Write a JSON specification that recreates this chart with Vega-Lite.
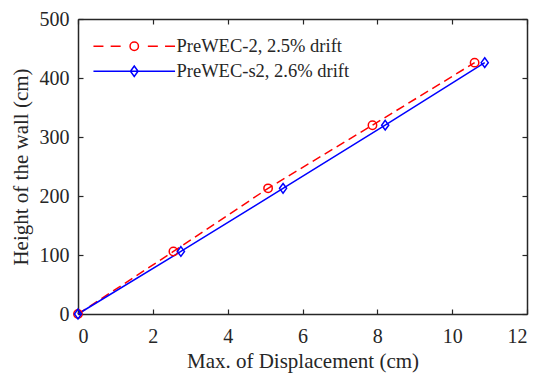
{
  "$schema": "https://vega.github.io/schema/vega-lite/v6.json",
  "autosize": {"type": "none"},
  "padding": {"left": 78, "top": 19, "right": 10, "bottom": 61},
  "width": 449,
  "height": 295,
  "background": "white",
  "config": {
    "view": {"stroke": null},
    "axis": {
      "labelFont": "Liberation Serif", "labelFontSize": 20, "labelColor": "#262626",
      "titleFont": "Liberation Serif", "titleFontSize": 21, "titleFontWeight": "normal", "titleColor": "#262626",
      "domainColor": "#262626", "domainWidth": 1.5, "tickColor": "#262626", "tickWidth": 1.2, "grid": false, "tickSize": -5
    },
    "legend": {"labelFont": "Liberation Serif", "labelFontSize": 18.5, "labelColor": "#262626", "labelLimit": 400}
  },
  "datasets": {
    "main": [
      {"series": "PreWEC-2, 2.5% drift", "x": 0, "y": 0},
      {"series": "PreWEC-2, 2.5% drift", "x": 2.55, "y": 106},
      {"series": "PreWEC-2, 2.5% drift", "x": 5.08, "y": 213},
      {"series": "PreWEC-2, 2.5% drift", "x": 7.87, "y": 320},
      {"series": "PreWEC-2, 2.5% drift", "x": 10.6, "y": 426},
      {"series": "PreWEC-s2, 2.6% drift", "x": 0, "y": 0},
      {"series": "PreWEC-s2, 2.6% drift", "x": 2.75, "y": 106},
      {"series": "PreWEC-s2, 2.6% drift", "x": 5.48, "y": 213},
      {"series": "PreWEC-s2, 2.6% drift", "x": 8.21, "y": 320},
      {"series": "PreWEC-s2, 2.6% drift", "x": 10.87, "y": 426}
    ],
    "legend": [
      {"label": "PreWEC-2, 2.5% drift"},
      {"label": "PreWEC-s2, 2.6% drift"}
    ]
  },
  "layer": [
    {
      "data": {"name": "main"},
      "transform": [{"filter": "datum.series === 'PreWEC-2, 2.5% drift'"}],
      "mark": {"type": "line", "strokeWidth": 1.5, "color": "#ff0000", "strokeDash": [9, 5]},
      "encoding": {
        "x": {"field": "x", "type": "quantitative", "scale": {"domain": [0, 12], "nice": false},
              "axis": {"orient": "bottom", "values": [0, 2, 4, 6, 8, 10, 12], "title": "Max. of Displacement (cm)", "labelPadding": 17, "titlePadding": 4}},
        "y": {"field": "y", "type": "quantitative", "scale": {"domain": [0, 500], "nice": false},
              "axis": {"orient": "left", "values": [0, 100, 200, 300, 400, 500], "title": "Height of the wall (cm)", "labelPadding": 14, "titlePadding": 8}}
      }
    },
    {
      "data": {"name": "main"},
      "transform": [{"filter": "datum.series === 'PreWEC-s2, 2.6% drift'"}],
      "mark": {"type": "line", "strokeWidth": 1.5, "color": "#0000ff"},
      "encoding": {
        "x": {"field": "x", "type": "quantitative", "axis": null},
        "y": {"field": "y", "type": "quantitative", "axis": null}
      }
    },
    {
      "data": {"name": "main"},
      "transform": [{"filter": "datum.series === 'PreWEC-2, 2.5% drift'"}],
      "mark": {"type": "point", "filled": false, "strokeWidth": 1.5, "size": 64, "opacity": 1, "color": "#ff0000",
               "shape": "M1.05,0A1.05,1.05,0,1,1,-1.05,0A1.05,1.05,0,1,1,1.05,0Z"},
      "encoding": {
        "x": {"field": "x", "type": "quantitative",
              "axis": {"orient": "top", "values": [0, 2, 4, 6, 8, 10, 12], "labels": false, "title": null}},
        "y": {"field": "y", "type": "quantitative",
              "axis": {"orient": "right", "values": [0, 100, 200, 300, 400, 500], "labels": false, "title": null}}
      }
    },
    {
      "data": {"name": "main"},
      "transform": [{"filter": "datum.series === 'PreWEC-s2, 2.6% drift'"}],
      "mark": {"type": "point", "filled": false, "strokeWidth": 1.5, "size": 56, "opacity": 1, "color": "#0000ff",
               "shape": "M0,-1.3L0.95,0L0,1.3L-0.95,0Z"},
      "encoding": {
        "x": {"field": "x", "type": "quantitative", "axis": null},
        "y": {"field": "y", "type": "quantitative", "axis": null}
      }
    },
    {
      "data": {"name": "legend"},
      "mark": {"type": "point", "filled": false, "opacity": 0, "strokeWidth": 1.5, "size": 64},
      "encoding": {
        "color": {"field": "label", "type": "nominal",
                  "scale": {"domain": ["PreWEC-2, 2.5% drift", "PreWEC-s2, 2.6% drift"], "range": ["#ff0000", "#0000ff"]},
                  "legend": {"orient": "none", "legendX": 47, "legendY": 18, "title": null, "symbolSize": 64, "labelOffset": 33, "rowPadding": 6, "symbolStrokeWidth": 1.5, "symbolOpacity": 1}},
        "shape": {"field": "label", "type": "nominal",
                  "scale": {"domain": ["PreWEC-2, 2.5% drift", "PreWEC-s2, 2.6% drift"],
                            "range": ["M-10.2,0H-7.7M-5.9,0H-3.4M3.4,0H5.9M7.7,0H10.2M1.05,0A1.05,1.05,0,1,1,-1.05,0A1.05,1.05,0,1,1,1.05,0Z", "M-10.2,0H10.2M0,-1.3L0.95,0L0,1.3L-0.95,0Z"]},
                  "legend": {"orient": "none", "legendX": 47, "legendY": 18, "title": null, "symbolSize": 64, "labelOffset": 33, "rowPadding": 6, "symbolStrokeWidth": 1.5, "symbolOpacity": 1}}
      }
    }
  ],
  "resolve": {"axis": {"x": "independent", "y": "independent"}}
}
